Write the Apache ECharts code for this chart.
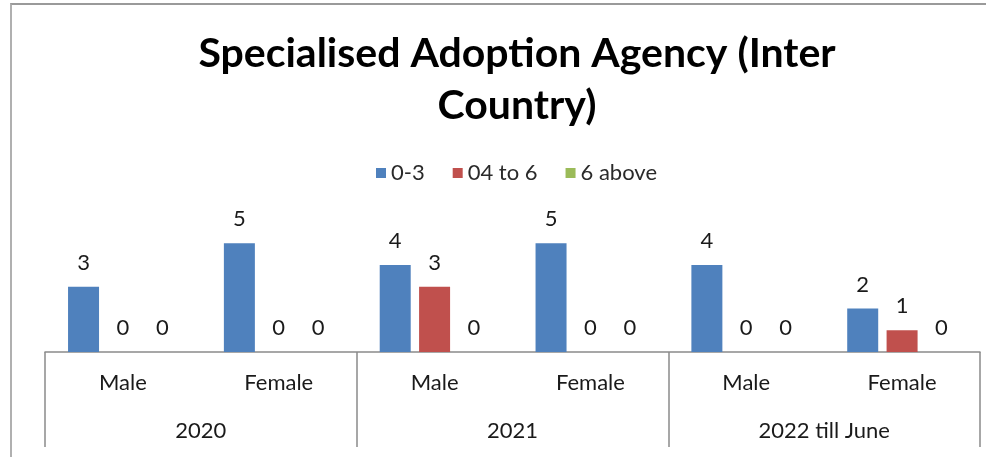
<!DOCTYPE html>
<html><head><meta charset="utf-8">
<script src="https://cdn.jsdelivr.net/npm/echarts@6/dist/echarts.min.js"></script>
<style>
html,body{margin:0;padding:0;background:#fff;}
#frame{position:absolute;left:10px;top:3px;width:976px;height:454px;border-top:2px solid #9a9a9a;border-left:2px solid #b0b0b0;box-sizing:border-box;}
#c{position:absolute;left:0;top:0;width:986px;height:457px;}
</style></head>
<body><div id="frame"></div><div id="c"></div>
<script>
const categories = ['Male','Female','Male','Female','Male','Female'];
const years = ['2020','2021','2022 till June'];
const seriesNames = ['0-3','04 to 6','6 above'];
const s03 = [3,5,4,5,4,2];
const s46 = [0,0,3,0,0,1];
const s6a = [0,0,0,0,0,0];
const colors = ['#4F81BD','#C0504D','#9BBB59'];
const font = 'Lato';
const chart = echarts.init(document.getElementById('c'));
const mk = (name, data, color) => ({
  name, type:'bar', data, barWidth:31, barGap:'27%', xAxisIndex:0,
  itemStyle:{color},
  label:{show:true, position:'top', distance:13, color:'#1a1a1a', fontFamily:font, fontSize:22}
});
chart.setOption({
  animation:false,
  title:{text:'Specialised Adoption Agency (Inter\nCountry)', left:512, textAlign:'center', top:23,
    textStyle:{fontFamily:font, fontWeight:'bold', fontSize:41, lineHeight:52, color:'#000'}},
  legend:{top:157, left:371, itemWidth:10, itemHeight:10, itemGap:28,
    icon:'rect', textStyle:{fontFamily:font, fontSize:22, color:'#2a2a2a'},
    data:seriesNames},
  grid:{left:45, right:6, top:221.5, bottom:105},
  xAxis:[
    {type:'category', data:categories, position:'bottom',
     axisLine:{lineStyle:{color:'#8a8a8a', width:1.5}}, axisTick:{show:false},
     axisLabel:{margin:20, fontFamily:font, fontSize:22, color:'#1a1a1a'}},
    {type:'category', data:years, position:'bottom',
     axisLine:{show:false}, axisTick:{show:true, length:95, lineStyle:{color:'#8a8a8a', width:1.5}},
     axisLabel:{margin:68, fontFamily:font, fontSize:22, color:'#1a1a1a'}}
  ],
  yAxis:{type:'value', min:0, max:6, show:false, splitLine:{show:false}},
  series:[mk(seriesNames[0], s03, colors[0]), mk(seriesNames[1], s46, colors[1]), mk(seriesNames[2], s6a, colors[2])]
});
</script></body></html>
